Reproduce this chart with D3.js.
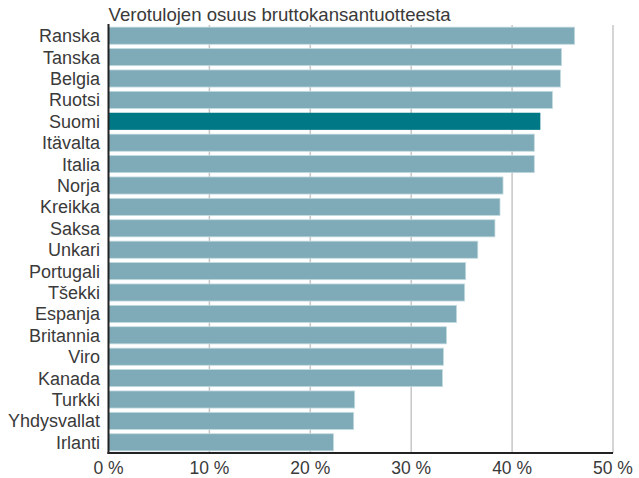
<!DOCTYPE html>
<html>
<head>
<meta charset="utf-8">
<script src="https://cdn.jsdelivr.net/npm/d3@7"></script>
<style>
  body { margin: 0; background: #fff; }
  text { font-family: "Liberation Sans", Arial, Helvetica, sans-serif; }
</style>
</head>
<body>
<svg id="chart" width="639" height="478"></svg>
<script>
const countries = ["Ranska","Tanska","Belgia","Ruotsi","Suomi","Itävalta","Italia","Norja","Kreikka","Saksa","Unkari","Portugali","Tšekki","Espanja","Britannia","Viro","Kanada","Turkki","Yhdysvallat","Irlanti"];
const values = [46.2,44.9,44.8,44.0,42.8,42.2,42.2,39.1,38.8,38.3,36.6,35.4,35.3,34.5,33.5,33.2,33.1,24.4,24.3,22.3];
const highlight = "Suomi";
const ticks = [0,10,20,30,40,50];
const title = "Verotulojen osuus bruttokansantuotteesta";

const svg = d3.select("#chart");
const mLeft = 108.5, mRight = 613, mTop = 25, mBottom = 453;

const x = d3.scaleLinear().domain([0,50]).range([mLeft, mRight]);
const y = d3.scaleBand().domain(countries).range([mTop, mBottom]).paddingInner(0.2).paddingOuter(0.1);

// gridlines
svg.append("g").selectAll("line").data(ticks.slice(1)).join("line")
  .attr("x1", d => x(d)).attr("x2", d => x(d))
  .attr("y1", mTop).attr("y2", mBottom)
  .attr("stroke", "#c6c6c6").attr("stroke-width", 1.5);

// bars
const data = countries.map((c,i) => ({c, v: values[i]}));
svg.append("g").selectAll("rect").data(data).join("rect")
  .attr("x", x(0))
  .attr("y", d => y(d.c))
  .attr("width", d => x(d.v) - x(0))
  .attr("height", y.bandwidth())
  .attr("fill", d => d.c === highlight ? "#007886" : "#7eabb7")
  .attr("stroke", d => d.c === highlight ? "none" : "#c4dbe0")
  .attr("stroke-width", 0.8);

// y labels
svg.append("g").selectAll("text").data(countries).join("text")
  .attr("x", 100)
  .attr("y", d => y(d) + y.bandwidth()/2)
  .attr("dy", "0.36em")
  .attr("text-anchor", "end")
  .attr("font-size", 18)
  .attr("fill", "#3a3a3a")
  .text(d => d);

// axes lines
svg.append("line").attr("x1", mLeft).attr("x2", mLeft).attr("y1", mTop - 1).attr("y2", mBottom + 1)
  .attr("stroke", "#222").attr("stroke-width", 2);
svg.append("line").attr("x1", mLeft - 1).attr("x2", mRight).attr("y1", mBottom).attr("y2", mBottom)
  .attr("stroke", "#222").attr("stroke-width", 2);

// x tick labels
svg.append("g").selectAll("text").data(ticks).join("text")
  .attr("x", d => x(d))
  .attr("y", 474)
  .attr("text-anchor", "middle")
  .attr("font-size", 17.5)
  .attr("fill", "#3a3a3a")
  .text(d => d + " %");

// title
svg.append("text").attr("x", mLeft).attr("y", 21)
  .attr("font-size", 18.6).attr("fill", "#3a3a3a").text(title);
</script>
</body>
</html>
